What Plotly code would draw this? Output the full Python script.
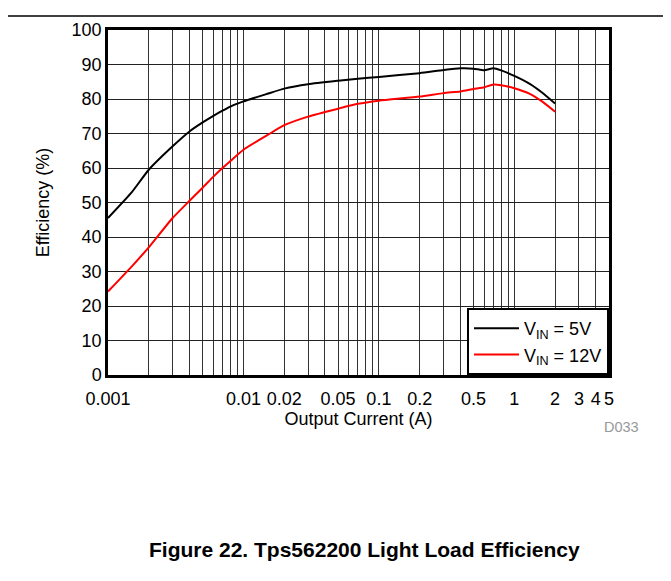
import plotly.graph_objects as go
import math

current = [0.001, 0.0015, 0.002, 0.003, 0.004, 0.005, 0.006, 0.007, 0.008, 0.01,
           0.015, 0.02, 0.03, 0.05, 0.07, 0.1, 0.2, 0.3, 0.4, 0.5, 0.6, 0.7, 0.8,
           1.0, 1.3, 1.6, 2.0]
eff_5v = [45.5, 53.0, 59.5, 66.3, 70.6, 73.2, 75.1, 76.6, 77.8, 79.3,
          81.5, 83.0, 84.3, 85.3, 85.9, 86.4, 87.5, 88.4, 88.9, 88.8, 88.3, 88.9, 88.3,
          86.7, 84.4, 81.9, 78.7]
eff_12v = [24.2, 31.5, 37.0, 45.5, 50.5, 54.3, 57.5, 60.0, 62.0, 65.3,
           69.5, 72.4, 74.9, 77.2, 78.6, 79.5, 80.7, 81.7, 82.2, 82.9, 83.4, 84.2, 84.0,
           83.1, 81.5, 79.3, 76.3]

labeled = {0.001: "0.001", 0.01: "0.01", 0.02: "0.02", 0.05: "0.05", 0.1: "0.1",
           0.2: "0.2", 0.5: "0.5", 1: "1", 2: "2", 3: "3", 4: "4", 5: "5"}
grid_vals = []
grid_text = []
for dec in [0.001, 0.01, 0.1, 1]:
    for m in range(1, 10):
        v = round(m * dec, 6)
        if v > 5:
            break
        grid_vals.append(v)
        grid_text.append(labeled.get(v, ""))

y_ticks = list(range(0, 101, 10))

FONT = "Liberation Sans, Arial, sans-serif"

W, H = 663, 573
L, R, T, B = 100, 62, 15, 206
PW = W - L - R
PH = H - T - B

fig = go.Figure()
fig.add_trace(go.Scatter(x=current, y=eff_5v, mode="lines", name="V<sub>IN</sub> = 5V",
                         line=dict(color="black", width=2, shape="spline", smoothing=0.5)))
fig.add_trace(go.Scatter(x=current, y=eff_12v, mode="lines", name="V<sub>IN</sub> = 12V",
                         line=dict(color="#ff0000", width=2, shape="spline", smoothing=0.5)))

fig.update_layout(
    width=W, height=H,
    margin=dict(l=L, r=R, t=T, b=B),
    paper_bgcolor="white", plot_bgcolor="white",
    font=dict(family=FONT, size=18, color="black"),
    showlegend=True,
    legend=dict(x=1, xanchor="right", y=0, yanchor="bottom",
                bgcolor="white", bordercolor="black", borderwidth=2,
                font=dict(size=18), itemwidth=45),
    xaxis=dict(type="log", range=[math.log10(0.001), math.log10(5)],
               tickvals=grid_vals, ticktext=grid_text,
               showgrid=True, gridcolor="#333333", gridwidth=1,
               showline=True, linecolor="black", linewidth=2.5, mirror=True,
               ticks="outside", ticklen=6, tickcolor="rgba(0,0,0,0)", zeroline=False,
               title=dict(text="Output Current (A)", standoff=2, font=dict(size=18))),
    yaxis=dict(range=[0, 100], tickvals=y_ticks,
               showgrid=True, gridcolor="#222222", gridwidth=1,
               showline=True, linecolor="black", linewidth=2.5, mirror=True,
               ticks="", zeroline=False,
               title=dict(text="Efficiency (%)", standoff=18, font=dict(size=18))),
)

fig.add_shape(type="line", xref="paper", yref="paper",
              x0=-L / PW, x1=(W - L) / PW, y0=(PH + T - 0.75) / PH, y1=(PH + T - 0.75) / PH,
              line=dict(color="black", width=1.5))

fig.add_annotation(text="D033", xref="paper", yref="paper", x=(633 - L) / PW,
                   y=-(420 - (T + PH)) / PH, xanchor="right", yanchor="middle", showarrow=False,
                   font=dict(size=14.5, color="#999999", family=FONT))
fig.add_annotation(text="<b>Figure 22. Tps562200 Light Load Efficiency</b>", xref="paper",
                   yref="paper", x=(356 - L) / PW, y=-(545 - (T + PH)) / PH,
                   xanchor="center", yanchor="middle", showarrow=False,
                   font=dict(size=21, color="black", family=FONT))

fig.write_html("out.html")
